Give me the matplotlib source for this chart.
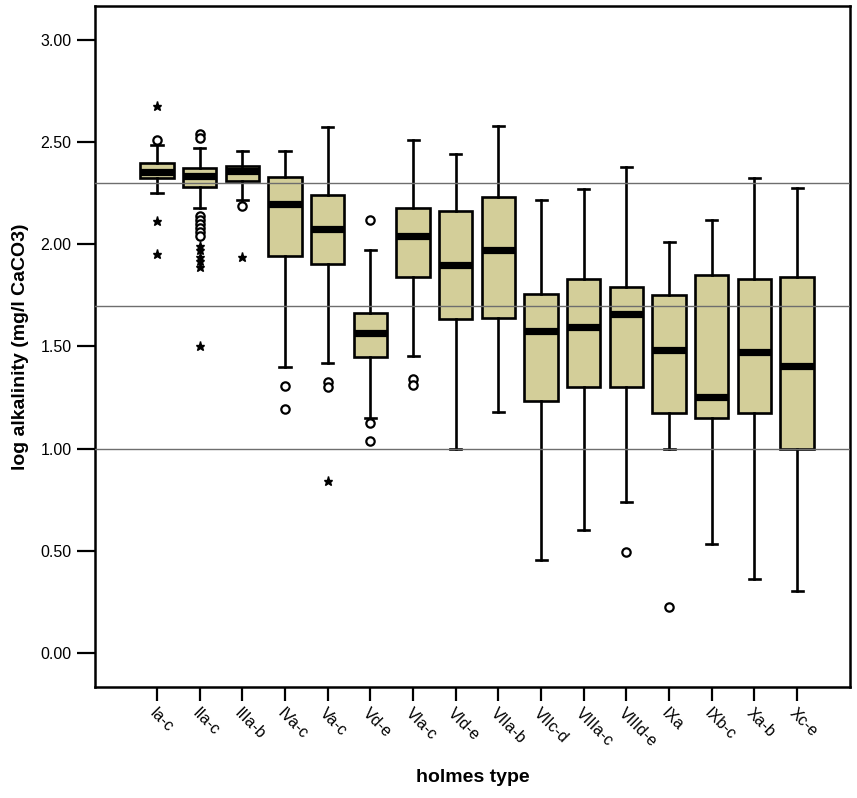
"""
Boxplot of log alkalinity by Holmes vegetation type, SPSS-style.
Outliers drawn as open circles, extreme values as stars.
"""

import matplotlib
matplotlib.use('Agg')
import matplotlib.pyplot as plt

plt.rcParams.update({
    'font.family': ['Liberation Sans', 'DejaVu Sans'],
    'font.size':   11,
})

# ---- data --------------------------------------------------------------
types   = ['Ia-c', 'IIa-c', 'IIIa-b', 'IVa-c', 'Va-c', 'Vd-e', 'VIa-c', 'VId-e',
           'VIIa-b', 'VIIc-d', 'VIIIa-c', 'VIIId-e', 'IXa', 'IXb-c', 'Xa-b', 'Xc-e']
whis_lo = [2.253, 2.178, 2.219, 1.398, 1.419, 1.149, 1.452, 1.000,
           1.177, 0.457, 0.600, 0.740, 1.000, 0.535, 0.362, 0.303]
q1      = [2.325, 2.281, 2.309, 1.941, 1.902, 1.450, 1.841, 1.635,
           1.640, 1.234, 1.300, 1.300, 1.173, 1.150, 1.173, 1.000]
median  = [2.352, 2.334, 2.360, 2.199, 2.077, 1.568, 2.042, 1.900,
           1.970, 1.574, 1.593, 1.659, 1.484, 1.253, 1.474, 1.404]
q3      = [2.396, 2.374, 2.384, 2.329, 2.243, 1.663, 2.180, 2.165,
           2.234, 1.757, 1.829, 1.790, 1.754, 1.852, 1.829, 1.838]
whis_hi = [2.486, 2.472, 2.456, 2.456, 2.576, 1.970, 2.510, 2.441,
           2.580, 2.219, 2.270, 2.379, 2.011, 2.121, 2.325, 2.276]

# outliers (o) and extreme values (*)
outliers = [[2.513],
            [2.54, 2.52, 2.14, 2.12, 2.10, 2.08, 2.06, 2.04],
            [2.188],
            [1.308, 1.193],
            [1.324, 1.300],
            [2.121, 1.124, 1.037],
            [1.340, 1.310],
            [], [], [], [],
            [0.494],
            [0.224],
            [], [], []]
extremes = [[2.679, 2.116, 1.955],
            [1.99, 1.97, 1.94, 1.92, 1.89, 1.50],
            [1.94],
            [],
            [0.841],
            [], [], [], [], [], [], [], [], [], [], []]

ref_lines = [2.30, 1.70, 1.00]
yticks = [0.0, 0.5, 1.0, 1.5, 2.0, 2.5, 3.0]

# ---- plot --------------------------------------------------------------
fig = plt.figure(figsize=(8.57, 7.98), dpi=100)
ax = fig.add_axes([0.1109, 0.1391, 0.8809, 0.8534])

positions = list(range(1, len(types) + 1))
stats = [{'whislo': whis_lo[i], 'q1': q1[i], 'med': median[i],
          'q3': q3[i], 'whishi': whis_hi[i], 'fliers': []}
         for i in range(len(types))]

ax.bxp(stats, positions=positions, widths=0.78, capwidths=0.26,
       patch_artist=True, showfliers=False,
       boxprops=dict(facecolor='#D3CE99', edgecolor='black', linewidth=1.9),
       medianprops=dict(color='black', linewidth=5.2, solid_capstyle='butt'),
       whiskerprops=dict(color='black', linewidth=1.9),
       capprops=dict(color='black', linewidth=1.9))

for pos, vals in zip(positions, outliers):
    if vals:
        ax.plot([pos] * len(vals), vals, linestyle='none', marker='o',
                markersize=6, markerfacecolor='white', markeredgecolor='black',
                markeredgewidth=1.6, zorder=4)
for pos, vals in zip(positions, extremes):
    if vals:
        ax.plot([pos] * len(vals), vals, linestyle='none', marker='*',
                markersize=6.5, color='black', zorder=4)

for y in ref_lines:
    ax.axhline(y, color='#6e6e6e', linewidth=1.0, zorder=3)

ax.set_xlim(-0.453, 17.24)
ax.set_ylim(-0.167, 3.167)
ax.set_yticks(yticks)
ax.set_yticklabels(['{:.2f}'.format(v) for v in yticks], fontsize=11.5)
ax.set_xticks(positions)
ax.set_xticklabels(types, rotation=-45, ha='left', va='top',
                   rotation_mode='anchor', fontsize=11.5)

ax.tick_params(axis='y', length=13, width=1.6, pad=4)
ax.tick_params(axis='x', length=10, width=1.6, pad=3)
for sp in ax.spines.values():
    sp.set_linewidth(1.8)

ax.set_ylabel('log alkalinity (mg/l CaCO3)', fontsize=14, fontweight='bold',
              labelpad=8)
ax.set_xlabel('holmes type', fontsize=14, fontweight='bold', labelpad=14)

fig.savefig('out.png', dpi=100)
plt.close(fig)
